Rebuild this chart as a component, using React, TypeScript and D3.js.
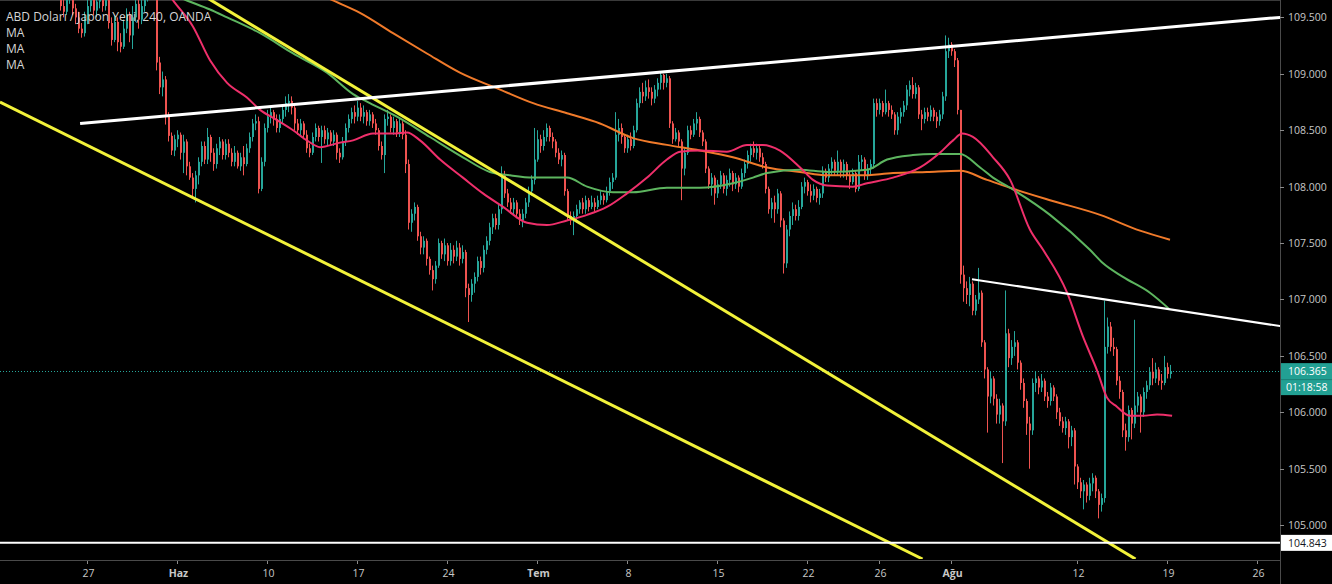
import React from 'react';
import * as d3 from 'd3';

// ---------- DATA ----------
const startBar = 20;
const firstOpen = 109.8;

// 4-hour closes, bars 20..390 (rows of 10)
const closes = [
  109.60,109.55,109.68,109.72,109.58,109.50,109.40,109.36,109.48,109.60,
  109.66,109.56,109.64,109.70,109.60,109.68,109.45,109.30,109.46,109.28,
  109.24,109.40,109.52,109.34,109.50,109.62,109.48,109.60,109.68,109.74,
  109.70,109.78,109.10,108.88,108.95,108.62,108.45,108.32,108.42,108.46,
  108.30,108.40,108.18,108.08,107.98,108.10,108.22,108.36,108.24,108.44,
  108.30,108.20,108.34,108.40,108.28,108.38,108.30,108.22,108.30,108.18,
  108.26,108.20,108.34,108.44,108.56,108.58,107.98,108.22,108.52,108.62,
  108.66,108.60,108.52,108.60,108.68,108.74,108.76,108.70,108.56,108.50,
  108.56,108.46,108.34,108.30,108.44,108.52,108.44,108.50,108.42,108.48,
  108.40,108.46,108.30,108.26,108.40,108.52,108.60,108.66,108.62,108.70,
  108.62,108.66,108.58,108.64,108.56,108.50,108.36,108.28,108.60,108.62,
  108.52,108.58,108.48,108.56,108.46,108.20,107.68,107.76,107.82,107.56,
  107.46,107.52,107.36,107.26,107.18,107.30,107.50,107.40,107.48,107.34,
  107.44,107.38,107.46,107.36,107.42,107.10,107.04,107.14,107.20,107.34,
  107.28,107.44,107.52,107.64,107.72,107.66,107.80,108.10,107.94,107.86,
  107.80,107.86,107.76,107.70,107.76,107.86,107.96,108.06,108.24,108.42,
  108.36,108.44,108.52,108.44,108.40,108.30,108.24,108.28,107.96,107.74,
  107.70,107.74,107.80,107.86,107.80,107.88,107.82,107.86,107.82,107.88,
  107.92,107.88,107.96,108.04,108.08,108.46,108.52,108.44,108.34,108.42,
  108.36,108.50,108.74,108.84,108.80,108.88,108.84,108.78,108.86,108.92,
  108.99,108.92,108.96,108.56,108.42,108.48,108.40,108.16,108.30,108.50,
  108.46,108.56,108.60,108.48,108.40,108.16,108.02,108.08,107.94,108.02,
  108.10,107.98,108.06,108.12,108.02,108.08,108.00,108.12,108.20,108.28,
  108.34,108.30,108.34,108.26,108.20,107.98,107.80,107.86,107.80,107.94,
  107.70,107.32,107.62,107.74,107.80,107.74,107.82,108.00,108.04,107.96,
  107.92,107.98,107.90,107.94,108.14,108.08,108.16,108.22,108.14,108.22,
  108.14,108.20,108.10,108.04,108.12,107.98,108.22,108.24,108.10,108.16,
  108.20,108.74,108.68,108.74,108.66,108.74,108.68,108.64,108.50,108.62,
  108.66,108.72,108.86,108.90,108.82,108.88,108.64,108.60,108.66,108.62,
  108.68,108.62,108.58,108.64,108.80,109.20,109.26,109.20,109.12,108.68,
  107.22,107.10,107.04,107.14,106.90,107.00,107.06,106.62,106.38,106.14,
  106.30,106.12,105.98,106.06,105.92,106.70,106.48,106.58,106.62,106.44,
  106.26,106.10,105.90,105.84,106.26,106.30,106.22,106.28,106.14,106.10,
  106.22,106.14,106.00,105.92,105.86,105.92,105.78,105.84,105.52,105.38,
  105.30,105.36,105.26,105.37,105.42,105.30,105.18,105.24,106.58,106.76,
  106.58,106.56,106.28,106.18,105.84,105.78,106.02,105.90,106.06,106.14,
  106.00,106.18,106.24,106.36,106.30,106.38,106.28,106.26,106.40,106.34,106.365,
];
const highs = [
  109.85,109.66,109.74,109.80,109.75,109.62,109.55,109.45,109.55,109.68,
  109.75,109.70,109.72,109.78,109.74,109.76,109.70,109.50,109.52,109.50,
  109.36,109.48,109.58,109.55,109.60,109.70,109.66,109.70,109.78,109.82,
  109.80,109.86,109.80,109.15,109.02,108.98,108.66,108.48,108.46,108.50,
  108.48,108.46,108.42,108.22,108.12,108.14,108.26,108.40,108.40,108.52,
  108.46,108.34,108.38,108.44,108.42,108.42,108.42,108.34,108.36,108.32,
  108.30,108.36,108.38,108.48,108.60,108.64,108.62,108.26,108.56,108.68,
  108.71,108.68,108.64,108.64,108.72,108.80,108.82,108.80,108.72,108.60,
  108.60,108.58,108.50,108.38,108.48,108.56,108.54,108.54,108.54,108.52,
  108.50,108.50,108.48,108.34,108.44,108.56,108.64,108.70,108.72,108.76,
  108.74,108.72,108.68,108.68,108.66,108.60,108.52,108.40,108.64,108.68,
  108.64,108.62,108.60,108.60,108.58,108.50,108.24,107.80,107.86,107.84,
  107.60,107.56,107.54,107.38,107.30,107.34,107.54,107.52,107.54,107.50,
  107.50,107.48,107.52,107.50,107.48,107.44,107.14,107.18,107.24,107.38,
  107.38,107.48,107.56,107.68,107.76,107.76,107.84,108.18,108.14,107.98,
  107.90,107.90,107.88,107.80,107.80,107.90,108.00,108.10,108.52,108.50,
  108.46,108.50,108.56,108.54,108.48,108.42,108.34,108.32,108.30,107.98,
  107.78,107.78,107.84,107.88,107.90,107.92,107.90,107.92,107.90,107.92,
  107.96,107.94,108.00,108.08,108.12,108.66,108.60,108.56,108.46,108.46,
  108.48,108.54,108.78,108.88,108.92,108.94,108.95,108.88,108.90,108.96,
  109.02,109.00,109.00,108.98,108.58,108.52,108.50,108.42,108.34,108.54,
  108.54,108.60,108.66,108.62,108.50,108.42,108.18,108.12,108.10,108.06,
  108.14,108.12,108.10,108.16,108.14,108.12,108.10,108.16,108.24,108.32,
  108.38,108.40,108.38,108.36,108.30,108.22,108.00,107.90,107.92,107.98,
  107.96,107.72,107.66,107.78,107.86,107.84,107.88,108.04,108.08,108.06,
  108.02,108.02,108.00,107.98,108.18,108.16,108.20,108.26,108.24,108.32,
  108.24,108.24,108.22,108.14,108.16,108.14,108.28,108.28,108.26,108.20,
  108.24,108.78,108.78,108.78,108.76,108.86,108.76,108.72,108.66,108.66,
  108.70,108.76,108.90,108.94,108.97,108.92,108.90,108.68,108.70,108.70,
  108.72,108.70,108.66,108.68,108.84,109.34,109.32,109.28,109.22,109.14,
  108.68,107.30,107.16,107.20,107.16,107.04,107.28,107.08,106.64,106.40,
  106.36,106.32,106.16,106.12,106.08,107.08,106.74,106.64,106.72,106.64,
  106.46,106.30,106.12,105.96,106.30,106.36,106.32,106.34,106.30,106.18,
  106.26,106.24,106.16,106.04,105.96,105.96,105.94,105.88,105.86,105.54,
  105.42,105.40,105.38,105.42,105.46,105.44,105.32,105.28,106.99,106.84,
  106.80,106.66,106.58,106.32,106.20,105.90,106.06,106.04,106.82,106.18,
  106.16,106.22,106.28,106.40,106.48,106.44,106.40,106.34,106.50,106.44,106.42,
];
const lows = [
  109.56,109.50,109.52,109.62,109.52,109.44,109.36,109.32,109.33,109.44,
  109.55,109.52,109.50,109.58,109.55,109.56,109.40,109.25,109.28,109.20,
  109.19,109.22,109.36,109.28,109.22,109.46,109.40,109.44,109.55,109.64,
  109.66,109.68,109.03,108.82,108.80,108.55,108.40,108.28,108.27,108.35,
  108.24,108.12,108.10,108.06,107.90,107.86,108.02,108.18,108.20,108.20,
  108.22,108.14,108.16,108.28,108.24,108.24,108.26,108.18,108.18,108.16,
  108.14,108.10,108.18,108.30,108.40,108.50,107.94,107.96,108.18,108.48,
  108.56,108.54,108.48,108.48,108.56,108.62,108.66,108.64,108.50,108.46,
  108.44,108.42,108.30,108.26,108.28,108.40,108.40,108.21,108.38,108.36,
  108.36,108.36,108.24,108.21,108.24,108.36,108.48,108.56,108.56,108.58,
  108.58,108.56,108.54,108.54,108.52,108.46,108.32,108.24,108.12,108.54,
  108.48,108.46,108.44,108.44,108.42,108.12,107.62,107.60,107.70,107.52,
  107.40,107.40,107.30,107.22,107.08,107.14,107.28,107.36,107.34,107.30,
  107.30,107.32,107.34,107.30,107.32,107.02,106.80,106.98,107.06,107.16,
  107.22,107.24,107.40,107.48,107.58,107.62,107.62,107.76,107.90,107.82,
  107.76,107.74,107.72,107.66,107.64,107.72,107.82,107.92,108.02,108.22,
  108.30,108.32,108.40,108.40,108.34,108.26,108.20,108.18,107.92,107.70,
  107.66,107.57,107.68,107.76,107.76,107.76,107.78,107.80,107.78,107.80,
  107.84,107.84,107.86,107.92,107.98,108.06,108.40,108.38,108.30,108.30,
  108.32,108.34,108.48,108.70,108.74,108.76,108.78,108.72,108.74,108.80,
  108.86,108.86,108.88,108.52,108.38,108.40,108.36,107.88,108.10,108.28,
  108.42,108.44,108.50,108.44,108.36,108.12,107.98,107.92,107.84,107.90,
  107.98,107.94,107.92,108.00,107.96,107.98,107.95,107.98,108.08,108.16,
  108.22,108.26,108.24,108.22,108.16,107.94,107.76,107.72,107.68,107.76,
  107.64,107.23,107.28,107.56,107.66,107.70,107.70,107.80,107.94,107.92,
  107.86,107.88,107.86,107.84,107.90,108.04,108.04,108.10,108.10,108.10,
  108.08,108.08,108.06,107.98,108.02,107.95,107.96,108.14,108.06,108.06,
  108.10,108.16,108.62,108.64,108.62,108.64,108.62,108.60,108.46,108.46,
  108.56,108.62,108.68,108.80,108.78,108.78,108.60,108.50,108.56,108.58,
  108.58,108.58,108.52,108.54,108.60,108.76,109.14,109.16,109.06,108.64,
  107.14,106.98,106.96,106.94,106.86,106.86,106.96,106.58,106.30,105.82,
  106.08,106.06,105.90,105.90,105.55,105.88,106.40,106.42,106.50,106.38,
  106.20,106.04,105.80,105.50,105.80,106.18,106.16,106.18,106.10,106.04,
  106.06,106.10,105.94,105.88,105.82,105.80,105.68,105.70,105.36,105.32,
  105.24,105.14,105.20,105.22,105.30,105.24,105.06,105.12,105.20,106.52,
  106.54,106.50,106.24,106.12,105.78,105.66,105.74,105.76,105.86,106.00,
  105.82,105.96,106.12,106.20,106.24,106.26,106.24,106.20,106.24,106.30,106.30,
];

// Moving averages: [bar, price]
const maFast: [number, number][] = [
  [52,109.85],[57.2,109.65],[63.8,109.42],[69.5,109.12],[75.2,108.92],[81.8,108.79],[86.2,108.68],
  [91.8,108.59],[97.2,108.50],[101.8,108.41],[106.2,108.35],[112.8,108.39],[117.2,108.41],
  [123.8,108.47],[130.5,108.47],[135.2,108.48],[139.5,108.41],[146.2,108.24],[153.8,108.08],
  [160.5,107.94],[167.2,107.82],[175.2,107.68],[181.8,107.66],[188.5,107.70],[195.2,107.75],
  [201.8,107.82],[208.5,107.94],[215.2,108.08],[221.8,108.24],[226.2,108.31],[232.8,108.32],
  [241.8,108.31],[248.5,108.37],[253.8,108.37],[259.5,108.32],[266.2,108.17],[270.5,108.06],
  [275.2,108.01],[283.8,108.00],[288.5,108.03],[297.2,108.08],[306.2,108.17],[312.8,108.30],
  [317.2,108.41],[320.2,108.47],[323.8,108.44],[330.5,108.26],[336.2,108.06],[342.8,107.62],
  [347.2,107.44],[355.2,107.06],[360.5,106.67],[365.2,106.37],[368.5,106.13],[371.8,106.05],
  [376.2,105.97],[380.5,105.97],[385.2,105.98],[390.2,105.97],
];
const maMid: [number, number][] = [
  [50,109.78],[61.8,109.65],[69.5,109.57],[75.2,109.50],[86.2,109.36],[97.2,109.18],[108.5,109.01],
  [117.2,108.82],[122.8,108.74],[131.8,108.62],[142.8,108.44],[153.8,108.26],[162.8,108.13],
  [169.5,108.10],[177.2,108.08],[188.5,108.08],[195.2,108.00],[203.8,107.95],[210.5,107.95],
  [221.8,107.99],[232.8,107.99],[243.8,108.03],[250.5,108.08],[255.2,108.12],[266.2,108.15],
  [275.2,108.13],[288.5,108.15],[295.2,108.24],[303.8,108.28],[310.5,108.29],[319.5,108.29],
  [326.2,108.17],[330.5,108.08],[336.2,107.99],[349.5,107.75],[362.8,107.44],[367.2,107.32],
  [373.8,107.20],[382.8,107.06],[389.5,106.91],
];
const maSlow: [number, number][] = [
  [100,109.78],[110.5,109.65],[119.5,109.54],[130.5,109.36],[141.8,109.18],[152.8,109.01],
  [166.2,108.86],[177.2,108.74],[188.5,108.65],[199.5,108.56],[210.5,108.43],[221.8,108.37],
  [232.8,108.32],[243.8,108.26],[255.2,108.17],[266.2,108.13],[275.2,108.10],[286.2,108.10],
  [297.2,108.12],[308.5,108.13],[319.5,108.14],[328.5,108.06],[336.2,107.99],[349.5,107.88],
  [366.2,107.75],[379.5,107.61],[389.5,107.53],
];

// Drawn trend lines: [bar, price] endpoints
const whiteTopLine: [number, number][] = [[26.2,108.56],[426.2,109.50]];
const whiteRightLine: [number, number][] = [[323.5,107.18],[426.2,106.764]];
const yellowOuterLine: [number, number][] = [[-0.5,108.75],[307,104.70]];
const yellowInnerLine: [number, number][] = [[60,109.81],[378,104.70]];
const levelPrice = 104.843;
const lastPrice = 106.365;
const countdown = '01:18:58';

const priceTicks = [109.5,109.0,108.5,108.0,107.5,107.0,106.5,106.0,105.5,105.0];
const dateTickBars = [29,59,89,119,149,179,209,239,269,293,317,359,389,419];
const dateTickLabels = ['27','Haz','10','17','24','Tem','8','15','22','26','Ağu','12','19','26'];
const monthLabels = ['Haz','Tem','Ağu'];

const title = 'ABD Doları / Japon Yeni, 240, OANDA';
const legendItems = ['MA','MA','MA'];

// ---------- CHART ----------
const W = 1332, H = 584;
const PR = 1280, PB = 559;
const FONT = "'Open Sans', 'Noto Sans', sans-serif";
const UP = '#26a69a', DOWN = '#ef5350';

export default function App() {
  const x = d3.scaleLinear().domain([-0.5, 426.1667]).range([0, PR]);
  const y = d3.scaleLinear().domain([104.70, 109.654]).range([PB, 0]);

  const candles = closes.map((c, i) => {
    const o = i === 0 ? firstOpen : closes[i - 1];
    const h = Math.max(highs[i], o, c);
    const l = Math.min(lows[i], o, c);
    return { bar: startBar + i, o, h, l, c, up: c >= o };
  });

  const maLine = d3.line<[number, number]>()
    .x(d => x(d[0])).y(d => y(d[1])).curve(d3.curveMonotoneX);
  const seg = d3.line<[number, number]>().x(d => x(d[0])).y(d => y(d[1]));

  const yLast = y(lastPrice);
  const yLevel = y(levelPrice);

  return (
    <svg width={W} height={H} style={{ position: 'fixed', left: 0, top: 0, display: 'block', background: '#000' }}>
      <defs>
        <clipPath id="plot"><rect x={0} y={0} width={PR} height={PB} /></clipPath>
      </defs>
      <rect x={0} y={0} width={W} height={H} fill="#000" />
      <line x1={0} x2={PR} y1={0.5} y2={0.5} stroke="#3a3a3a" />

      <g clipPath="url(#plot)">
        {/* current price dotted line */}
        <line x1={0} x2={PR} y1={Math.round(yLast) + 0.5} y2={Math.round(yLast) + 0.5}
          stroke={UP} strokeDasharray="1 2" strokeWidth={1} />
        {candles.map(k => {
          const cx = Math.round(x(k.bar));
          const col = k.up ? UP : DOWN;
          const yt = y(Math.max(k.o, k.c));
          const yb = y(Math.min(k.o, k.c));
          return (
            <g key={k.bar}>
              <line x1={cx - 0.5} x2={cx - 0.5} y1={y(k.h)} y2={y(k.l)} stroke={col} strokeWidth={1} />
              <rect x={cx - 1} y={yt} width={2} height={Math.max(1, yb - yt)} fill={col} />
            </g>
          );
        })}
        <path d={maLine(maSlow) || ''} fill="none" stroke="#f07a2a" strokeWidth={2} />
        <path d={maLine(maMid) || ''} fill="none" stroke="#5db55f" strokeWidth={2} />
        <path d={maLine(maFast) || ''} fill="none" stroke="#ef2f6b" strokeWidth={2} />

        <path d={seg(yellowOuterLine) || ''} stroke="#f2f23a" strokeWidth={3} fill="none" />
        <path d={seg(yellowInnerLine) || ''} stroke="#f2f23a" strokeWidth={3} fill="none" />
        <path d={seg(whiteTopLine) || ''} stroke="#ffffff" strokeWidth={3} fill="none" />
        <path d={seg(whiteRightLine) || ''} stroke="#ffffff" strokeWidth={2} fill="none" />
      </g>
      <line x1={0} x2={PR} y1={yLevel} y2={yLevel} stroke="#ffffff" strokeWidth={2} />

      {/* legend */}
      <g fontFamily={FONT} fontSize={12} fill="#d6d6d6">
        <text x={6} y={21}>{title}</text>
        {legendItems.map((t, i) => (
          <text key={i} x={6} y={37 + i * 16}>{t}</text>
        ))}
      </g>

      {/* price axis */}
      <line x1={PR + 0.5} x2={PR + 0.5} y1={0} y2={H} stroke="#4a4a4a" />
      <g fontFamily={FONT} fontSize={10.5} fill="#c8c8c8">
        {priceTicks.map(p => (
          <g key={p}>
            <line x1={PR} x2={PR + 4} y1={Math.round(y(p)) + 0.5} y2={Math.round(y(p)) + 0.5} stroke="#8a8a8a" />
            <text x={PR + 8} y={y(p) + 4}>{p.toFixed(3)}</text>
          </g>
        ))}
      </g>
      <rect x={PR + 1} y={yLast - 8} width={W - PR - 1} height={32} fill="#22a093" />
      <line x1={PR + 1} x2={W} y1={yLast + 8.5} y2={yLast + 8.5} stroke="#1a7f75" />
      <g fontFamily={FONT} fontSize={10.5} fill="#ffffff">
        <text x={PR + 8} y={yLast + 4}>{lastPrice.toFixed(3)}</text>
        <text x={PR + 6} y={yLast + 20}>{countdown}</text>
      </g>
      <rect x={PR + 1} y={yLevel - 8} width={W - PR - 1} height={16} fill="#ffffff" />
      <text x={PR + 8} y={yLevel + 4} fontFamily={FONT} fontSize={10.5} fill="#131722">{levelPrice.toFixed(3)}</text>

      {/* time axis */}
      <line x1={0} x2={PR} y1={PB + 1.5} y2={PB + 1.5} stroke="#4a4a4a" />
      <g fontFamily={FONT} fontSize={10.5} fill="#c8c8c8" textAnchor="middle">
        {dateTickBars.map((b, i) => (
          <g key={i}>
            <line x1={Math.round(x(b)) - 0.5} x2={Math.round(x(b)) - 0.5} y1={PB + 2} y2={PB + 5} stroke="#8a8a8a" />
            <text x={x(b)} y={PB + 18}
              fontWeight={monthLabels.includes(dateTickLabels[i]) ? 700 : 400}>{dateTickLabels[i]}</text>
          </g>
        ))}
      </g>
    </svg>
  );
}
